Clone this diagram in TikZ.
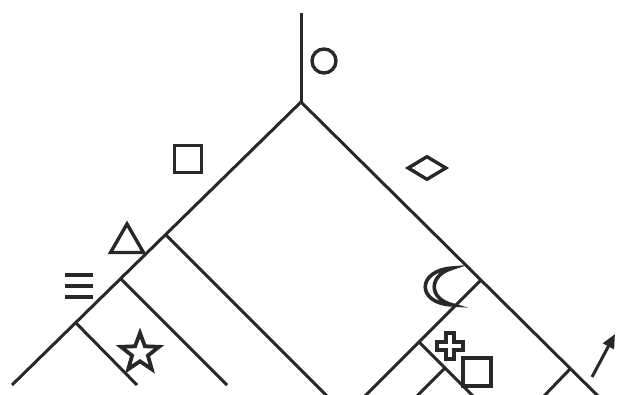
\documentclass[tikz,border=0pt]{standalone}
\definecolor{inkGray}{RGB}{40, 40, 40}
\usepackage{tikz}
\usetikzlibrary{positioning, calc, shapes.geometric, arrows.meta}

\begin{document}
\begin{tikzpicture}[
    x=1pt, y=-1pt,
    branch/.style={draw=inkGray, line width=3pt},
    sym/.style={draw=inkGray, line width=3.4pt, fill=white, inner sep=0pt},
    barline/.style={draw=inkGray, line width=4pt},
  ]
    \useasboundingbox (0,0) rectangle (617,395);

    % tree points
    \coordinate (TOP) at (301,13);
    \coordinate (ROOT) at (301,102);
    \coordinate (LA) at (166,235);
    \coordinate (LB) at (121,279);
    \coordinate (LC) at (76,323);
    \coordinate (LEND) at (12,385);
    \coordinate (LCEND) at (137,385);
    \coordinate (LBEND) at (227,385);
    \coordinate (LAEND) at (327,396);
    \coordinate (RA) at (481,280);
    \coordinate (RB) at (571,368);
    \coordinate (REND) at (598,396);
    \coordinate (RBEND) at (544,396);
    \coordinate (RAEND) at (365,396);
    \coordinate (RC) at (419,342);
    \coordinate (RCEND) at (473,396);
    \coordinate (RD) at (445,368);
    \coordinate (RDEND) at (417,396);

    % branches
    \draw[branch] (TOP) -- (ROOT);
    \draw[branch] (LEND) -- (ROOT) -- (REND);
    \draw[branch] (LA) -- (LAEND);
    \draw[branch] (LB) -- (LBEND);
    \draw[branch] (LC) -- (LCEND);
    \draw[branch] (RA) -- (RAEND);
    \draw[branch] (RB) -- (RBEND);
    \draw[branch] (RC) -- (RCEND);
    \draw[branch] (RD) -- (RDEND);

    % symbols
    \node[sym, circle, minimum size=24pt] (CIRC) at (324,61) {};
    \node[sym, rectangle, minimum size=27pt] (SQTOP) at (188,159) {};
    \node[sym, diamond, minimum width=39pt, minimum height=24pt] (DIAM) at (427,168) {};
    \node[sym, regular polygon, regular polygon sides=3, minimum size=38pt] (TRI) at (127,243) {};
    \node[sym, star, star points=5, star point ratio=2.4, minimum size=40pt, line width=3.8pt] (STAR) at (140,353) {};
    \node[sym, rectangle, minimum size=28pt] (SQLOW) at (477,372) {};

    \coordinate (BARS) at (79,286);
    \draw[barline] ($(BARS)+(-14,-11)$) -- ++(28,0);
    \draw[barline] ($(BARS)+(-14,0)$) -- ++(28,0);
    \draw[barline] ($(BARS)+(-14,11)$) -- ++(28,0);

    \coordinate (MOON) at (438,286);
    \draw[sym, line width=3.6pt, shift={(MOON)}] (15,-18) .. controls (-22,-16) and (-22,18) .. (15,19)
      .. controls (-10,13) and (-10,-11) .. cycle;

    \coordinate (PLUS) at (450,346);
    \draw[sym, line width=3.8pt, shift={(PLUS)}] (-4,-13) -- (4,-13) -- (4,-4) -- (13,-4) -- (13,4) -- (4,4)
      -- (4,13) -- (-4,13) -- (-4,4) -- (-13,4) -- (-13,-4) -- (-4,-4) -- cycle;

    % arrow
    \coordinate (ARRFROM) at (592,377);
    \coordinate (ARRTO) at (615,334);
    \draw[branch, -{Triangle[length=14pt, width=12pt]}] (ARRFROM) -- (ARRTO);
  \end{tikzpicture}
\end{document}
